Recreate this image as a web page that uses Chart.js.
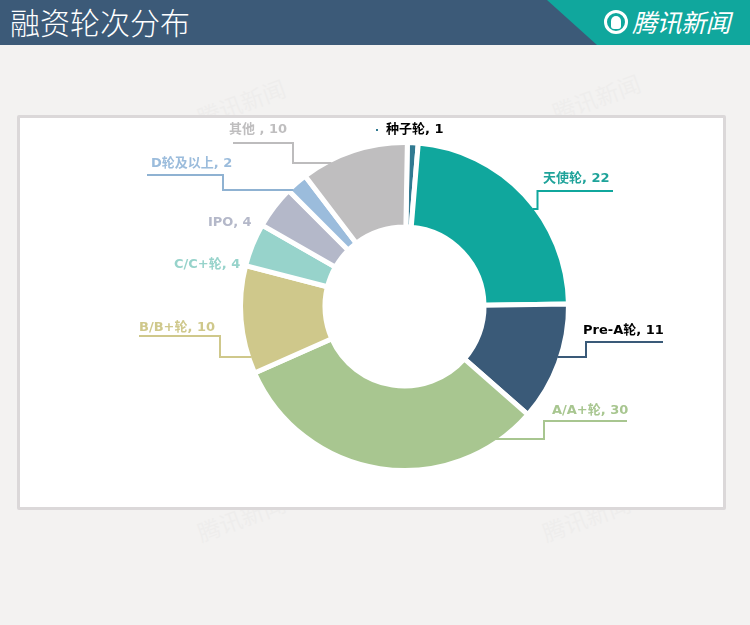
<!DOCTYPE html>
<html lang="zh">
<head>
<meta charset="utf-8">
<style>
html,body{margin:0;padding:0;width:750px;height:625px;overflow:hidden;background:#f3f2f1;font-family:"Noto Sans CJK SC",sans-serif}
#head{position:absolute;left:0;top:0;width:750px;height:45px;background:#3c5a78}
#tri{position:absolute;left:547px;top:0;width:203px;height:45px;background:#10a79d;clip-path:polygon(0 0,100% 0,100% 100%,50px 100%)}
#title{position:absolute;left:10px;top:0;font-size:30px;line-height:43px;color:#fff;font-weight:300}
#brand{position:absolute;left:632px;top:6px;font-size:25px;line-height:30px;color:#fff;font-style:italic;letter-spacing:-.5px;white-space:nowrap}
#logo{position:absolute;left:604px;top:10px;border:3px solid #fff;border-radius:50%;box-sizing:content-box;width:18px;height:18px}
#logo i{position:absolute;left:4px;top:3px;width:10px;height:13px;background:#fff;border-radius:5px 5px 3px 3px}
.wm{position:absolute;font-size:23px;color:#000;opacity:.014;transform:rotate(-20deg);white-space:nowrap}
#frame{position:absolute;left:17px;top:115px;width:703px;height:389px;background:#fff;border:3px solid #dbd8d9;border-radius:2px}
canvas{position:absolute;left:0;top:0}
#wrap{position:absolute;left:0;top:0;width:750px;height:625px}
</style>
</head>
<body>
<div id="head"><div id="tri"></div><div id="title">融资轮次分布</div><div id="logo"><i></i></div><div id="brand">腾讯新闻</div></div>
<div class="wm" style="left:195px;top:85px">腾讯新闻</div>
<div class="wm" style="left:550px;top:80px">腾讯新闻</div>
<div class="wm" style="left:195px;top:500px">腾讯新闻</div>
<div class="wm" style="left:540px;top:500px">腾讯新闻</div>
<div id="frame"></div>
<div id="wrap"><canvas id="c" width="750" height="625"></canvas></div>
<script src="https://cdn.jsdelivr.net/npm/chart.js@4"></script>
<script>
const categories = ["种子轮","天使轮","Pre-A轮","A/A+轮","B/B+轮","C/C+轮","IPO","D轮及以上","其他 "];
const values = [1,22,11,30,10,4,4,2,10];
const sliceColors = ["#317a91","#10a79d","#3a5a78","#a8c690","#cfc88b","#97d3cb","#b4b8c9","#9bbcdc","#bfbebf"];
const textColors = ["#000000","#1fa39a","#000000","#a8c690","#cfc88b","#97d3cb","#b4b8c9","#9bbcdc","#bfbebf"];
const lineColors = [null,"#10a79d","#3a5a78","#a8c690","#cfc88b",null,null,"#8fb2d2","#bdbcbd"];
// label annotation layout: text left / centre y; leader: y at the arc, elbow x, end y, end x
const labelLayout = [
 {x:386,y:130},
 {x:543,y:179,ly:209,ex:537.5,ey:191,tx:613},
 {x:583,y:331,ly:357,ex:586,ey:342,tx:663},
 {x:552,y:411,ly:439,ex:544,ey:421,tx:627},
 {x:139,y:328,ly:357,ex:220,ey:336,tx:139},
 {x:174,y:265},
 {x:208,y:223},
 {x:151,y:164,ly:190,ex:223,ey:175,tx:147},
 {x:229,y:130,ly:163,ex:293,ey:143,tx:233}
];
const annotate = {
 id:"annotate",
 afterDatasetsDraw(chart){
  const ctx = chart.ctx, arcs = chart.getDatasetMeta(0).data;
  ctx.save();
  const a0 = arcs[0], cx = a0.x, cy = a0.y, R = a0.outerRadius - 3;
  labelLayout.forEach((l,i)=>{
   if(l.ly!==undefined){
    const dir = l.ex>cx ? 1 : -1;
    const ax = cx + dir*Math.sqrt(Math.max(0,R*R-(l.ly-cy)*(l.ly-cy)));
    ctx.strokeStyle = lineColors[i]; ctx.lineWidth = 2;
    ctx.beginPath(); ctx.moveTo(ax,l.ly); ctx.lineTo(l.ex,l.ly); ctx.lineTo(l.ex,l.ey); ctx.lineTo(l.tx,l.ey); ctx.stroke();
   }
   ctx.font = 'bold 13px "DejaVu Sans","Noto Sans CJK SC",sans-serif';
   ctx.fillStyle = textColors[i]; ctx.textBaseline = "middle"; ctx.textAlign = "left";
   ctx.fillText(categories[i]+", "+values[i], l.x, l.y);
  });
  ctx.fillStyle = sliceColors[0];
  ctx.fillRect(labelLayout[0].x-10, labelLayout[0].y-1, 2, 2);
  ctx.restore();
 }
};
new Chart(document.getElementById("c"),{
 type:"doughnut",
 data:{labels:categories,datasets:[{data:values,backgroundColor:sliceColors,borderColor:"#ffffff",borderWidth:5,hoverOffset:0}]},
 options:{
  responsive:false,animation:false,
  rotation:1,radius:164,cutout:"48.5%",
  layout:{padding:{left:59,bottom:12}},
  plugins:{legend:{display:false},tooltip:{enabled:false},title:{display:false}}
 },
 plugins:[annotate]
});
</script>
</body>
</html>
